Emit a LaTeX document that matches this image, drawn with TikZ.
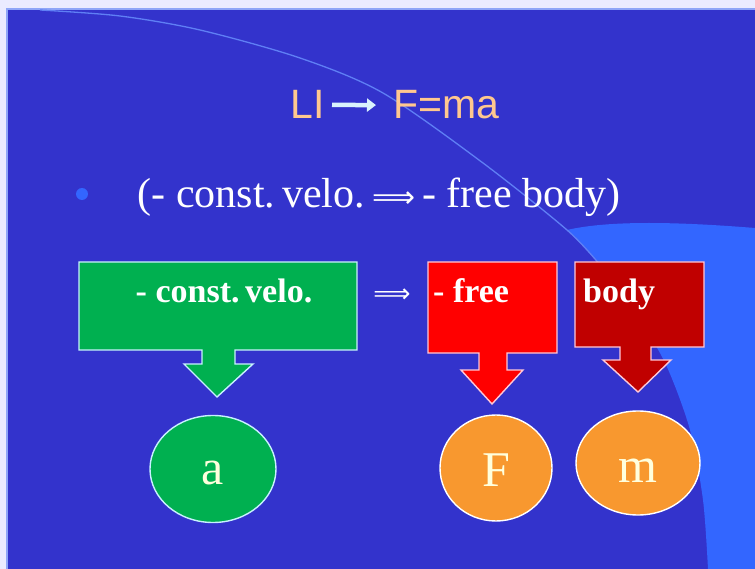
\documentclass[tikz,border=0pt]{standalone}
\usepackage{fontspec}
\setmainfont{Liberation Serif}
\newfontfamily\arialf{Liberation Sans}
\newfontfamily\symf{DejaVu Sans}
\usetikzlibrary{arrows.meta,shapes.geometric}
\definecolor{bgblue}{HTML}{3333CC}
\definecolor{lightblue}{HTML}{3366FF}
\definecolor{arcblue}{HTML}{5F7FF5}
\definecolor{titlecol}{HTML}{FFC88F}
\definecolor{greenbox}{HTML}{00B050}
\definecolor{redbox}{HTML}{FF0000}
\definecolor{darkredbox}{HTML}{C00000}
\definecolor{orangec}{HTML}{F8982F}
\definecolor{cream}{HTML}{FFFFDD}
\definecolor{greenedge}{HTML}{C8F0FF}
\definecolor{rededge}{HTML}{FFC8D8}
\tikzset{
  callout/.style={line width=1.4pt, line join=miter},
  boxtext/.style={text=white, font=\fontsize{34}{36}\selectfont\bfseries, inner sep=0pt},
  circ/.style={ellipse, draw=white, line width=1.4pt, inner sep=0pt},
  circtext/.style={text=cream, font=\fontsize{50}{54}\selectfont, inner sep=0pt},
  titletext/.style={text=titlecol, font=\arialf\fontsize{41}{44}\selectfont, inner sep=0pt},
}
\begin{document}
\begin{tikzpicture}[x=1pt,y=-1pt]
\useasboundingbox (0,0) rectangle (755,569);
% frame and background
\fill[white!92!blue] (0,0) rectangle (755,569);
\fill[bgblue] (7,9) rectangle (755,569);
\draw[arcblue!70!white, line width=1.2pt] (7,569) -- (7,9) -- (755,9);
% light region on the right
\fill[lightblue] plot[smooth] coordinates {(567,230) (600,265) (640,320) (667,367) (690,430) (703,500) (708,569)}
  -- (755,569) -- (755,228) .. controls (680,222) and (610,220) .. (567,230) -- cycle;
% thin arc
\draw[arcblue, line width=1.3pt] plot[smooth] coordinates {(40,10) (120,16) (200,30) (300,58) (383,93) (483,163) (567,230) (600,265)};

% title
\node (li) [titletext, anchor=base east] at (325,119) {LI};
\node (fma) [titletext, anchor=base west] at (393,119) {F=ma};
\draw[white!85!cyan, line width=4.5pt, -{Triangle[length=9pt,width=13pt]}] ([xshift=7pt]li.east) -- ([xshift=-17pt]fma.west);

% bullet line
\fill[lightblue] (82,194) circle (6);
\node (line2) [text=white, font=\fontsize{42}{46}\selectfont, inner sep=0pt, anchor=base] at (379,208) {(- const.\,velo.\,{\symf\fontsize{30}{40}\selectfont ⟹}\,- free body)};

% green callout
\fill[greenbox] (79,262) -- (357,262) -- (357,350) -- (235,350) -- (235,364) -- (253,364) -- (217,397) -- (184,364) -- (202,364) -- (202,350) -- (79,350) -- cycle;
\draw[greenedge, callout] (79,262) -- (357,262) -- (357,350) -- (235,350) -- (235,364) -- (253,364) -- (217,397) -- (184,364) -- (202,364) -- (202,350) -- (79,350) -- cycle;
\node (cv) [boxtext, anchor=base] at (224,303) {- const.\,velo.};
\node (imp) [text=white, font=\symf\fontsize{26}{34}\selectfont, inner sep=0pt, anchor=base] at (392,303) {⟹};

% red callout
\fill[redbox] (428,262) -- (557,262) -- (557,353) -- (507,353) -- (507,370) -- (523,370) -- (492,404) -- (461,370) -- (479,370) -- (479,353) -- (428,353) -- cycle;
\draw[rededge, callout] (428,262) -- (557,262) -- (557,353) -- (507,353) -- (507,370) -- (523,370) -- (492,404) -- (461,370) -- (479,370) -- (479,353) -- (428,353) -- cycle;
\node (free) [boxtext, anchor=base west] at (433,303) {- free};

% dark red callout
\fill[darkredbox] (575,262) -- (704,262) -- (704,347) -- (651,347) -- (651,360) -- (671,360) -- (638,392) -- (603,360) -- (620,360) -- (620,347) -- (575,347) -- cycle;
\draw[rededge, callout] (575,262) -- (704,262) -- (704,347) -- (651,347) -- (651,360) -- (671,360) -- (638,392) -- (603,360) -- (620,360) -- (620,347) -- (575,347) -- cycle;
\node (body) [boxtext, anchor=base west] at (583,303) {body};

% ellipses
\node (ca) [circ, fill=greenbox, draw=greenedge, minimum width=126pt, minimum height=107pt] at (213,469) {};
\node (ta) [circtext, anchor=base] at (213,484) {a};
\node (cf) [circ, fill=orangec, minimum width=112pt, minimum height=106pt] at (496,468) {};
\node (tf) [circtext, anchor=base] at (496,486) {F};
\node (cm) [circ, fill=orangec, minimum width=124pt, minimum height=104pt] at (638,463) {};
\node (tm) [circtext, anchor=base] at (638,482) {m};
\end{tikzpicture}
\end{document}
